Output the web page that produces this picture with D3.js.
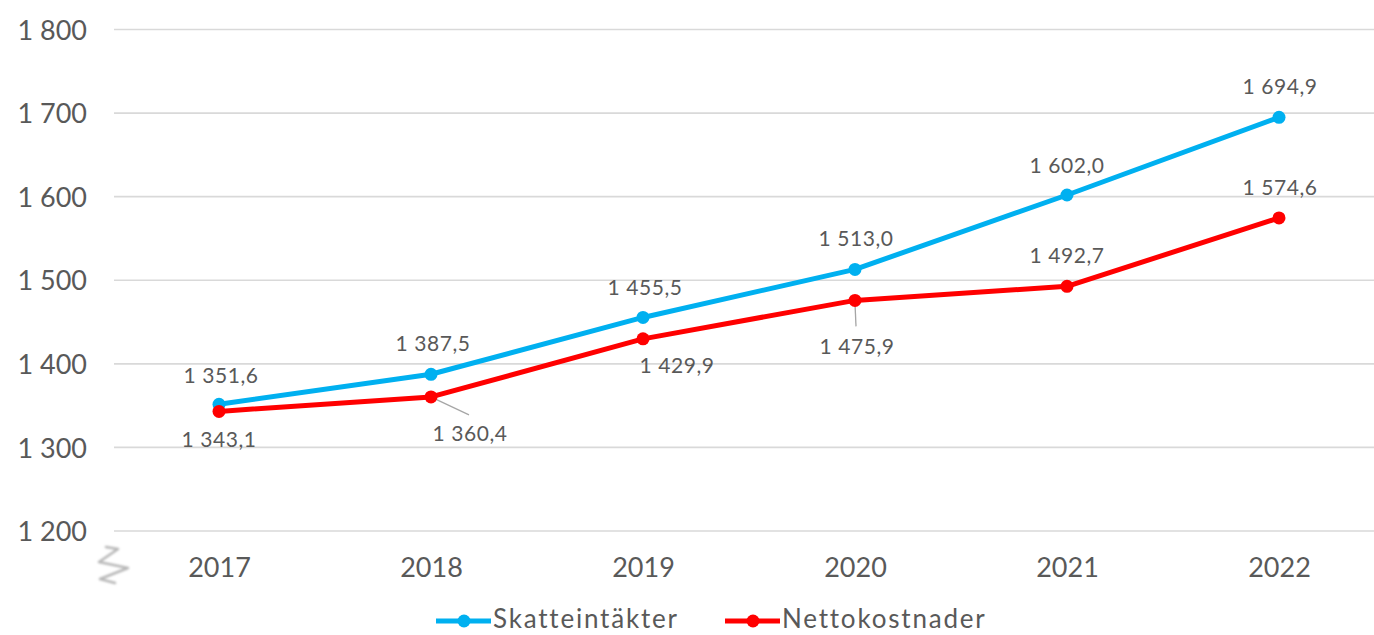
<!DOCTYPE html>
<html>
<head>
<meta charset="utf-8">
<script src="https://cdn.jsdelivr.net/npm/d3@7/dist/d3.min.js"></script>
<style>
  html, body { margin: 0; padding: 0; background: #ffffff; }
  svg { display: block; }
  text { font-family: "Lato", "Open Sans", sans-serif; fill: #595959; }
</style>
</head>
<body>
<svg id="chart" width="1374" height="635"></svg>
<script>
// Skatteintäkter och nettokostnader, 2017–2022
const years = ["2017", "2018", "2019", "2020", "2021", "2022"];
const skatteintakter = [1351.6, 1387.5, 1455.5, 1513.0, 1602.0, 1694.9];
const nettokostnader = [1343.1, 1360.4, 1429.9, 1475.9, 1492.7, 1574.6];
const yTicks = [1200, 1300, 1400, 1500, 1600, 1700, 1800];
const seriesNames = ["Skatteintäkter", "Nettokostnader"];

// label placement relative to each point (dx, dy) and optional leader line
const labelPlacement = {
  Skatteintäkter: [[2, -29], [2, -31], [2, -30], [1, -31], [0, -30], [1, -31]],
  Nettokostnader: [[0, 28], [39, 37], [34, 27], [2, 46], [0, -31], [1, -30]]
};
const leaders = {
  Nettokostnader: { 1: [[4, 2], [38, 18]], 3: [[0, 3], [1, 26]] }
};

const colors = { Skatteintäkter: "#00B0F0", Nettokostnader: "#FF0000" };

const svg = d3.select("#chart");
const W = 1374;

const x = d3.scalePoint().domain(years).range([219, 1279]);
const y = d3.scaleLinear().domain([1200, 1800]).range([531, 29.5]);

// gridlines
svg.append("g")
  .selectAll("line")
  .data(yTicks)
  .join("line")
  .attr("x1", 114).attr("x2", W)
  .attr("y1", d => y(d)).attr("y2", d => y(d))
  .attr("stroke", "#d9d9d9")
  .attr("stroke-width", 1.6);

const fmt = v => {
  const s = v.toFixed(1).replace(".", ",");
  const [int, dec] = s.split(",");
  return int.replace(/\B(?=(\d{3})+(?!\d))/g, " ") + "," + dec;
};
const fmtTick = v => String(v).replace(/\B(?=(\d{3})+(?!\d))/g, " ");

// y axis labels
const yAxis = d3.axisLeft(y).tickValues(yTicks).tickFormat(fmtTick).tickSize(0).tickPadding(0);
const gy = svg.append("g").attr("transform", "translate(87,0)").call(yAxis);
gy.select(".domain").remove();
gy.selectAll("text")
  .attr("font-size", 27)
  .attr("font-family", "Lato, sans-serif")
  .attr("fill", "#595959")
  .attr("dy", "0.36em");

// x axis labels
const xAxis = d3.axisBottom(x).tickSize(0).tickPadding(0);
const gx = svg.append("g").attr("transform", "translate(0,567)").call(xAxis);
gx.select(".domain").remove();
gx.selectAll("text")
  .attr("font-size", 27)
  .attr("font-family", "Lato, sans-serif")
  .attr("fill", "#595959")
  .attr("dy", "0.36em");

// axis break mark
const defs = svg.append("defs");
defs.append("filter").attr("id", "soft")
  .append("feGaussianBlur").attr("stdDeviation", 0.8);
svg.append("path")
  .attr("d", d3.line()([[106, 547], [118, 549], [99, 562], [128, 568], [100, 579], [115, 583]]))
  .attr("fill", "none")
  .attr("stroke", "#b8b8b8")
  .attr("stroke-width", 2.6)
  .attr("stroke-linejoin", "round")
  .attr("stroke-linecap", "round")
  .attr("filter", "url(#soft)");

const seriesData = { Skatteintäkter: skatteintakter, Nettokostnader: nettokostnader };
const line = d3.line().x((d, i) => x(years[i])).y(d => y(d));

// leader lines first, then series
seriesNames.forEach(name => {
  const vals = seriesData[name];
  const L = leaders[name] || {};
  Object.keys(L).forEach(k => {
    const i = +k;
    const px = x(years[i]), py = y(vals[i]);
    svg.append("line")
      .attr("x1", px + L[k][0][0]).attr("y1", py + L[k][0][1])
      .attr("x2", px + L[k][1][0]).attr("y2", py + L[k][1][1])
      .attr("stroke", "#a6a6a6").attr("stroke-width", 1.3);
  });
});

seriesNames.forEach(name => {
  const vals = seriesData[name];
  svg.append("path")
    .datum(vals)
    .attr("d", line)
    .attr("fill", "none")
    .attr("stroke", colors[name])
    .attr("stroke-width", 5)
    .attr("stroke-linejoin", "round");
  svg.append("g")
    .selectAll("circle")
    .data(vals)
    .join("circle")
    .attr("cx", (d, i) => x(years[i]))
    .attr("cy", d => y(d))
    .attr("r", 6.5)
    .attr("fill", colors[name]);
});

// data labels
seriesNames.forEach(name => {
  const vals = seriesData[name];
  svg.append("g")
    .selectAll("text")
    .data(vals)
    .join("text")
    .attr("x", (d, i) => x(years[i]) + labelPlacement[name][i][0])
    .attr("y", (d, i) => y(d) + labelPlacement[name][i][1])
    .attr("dy", "0.36em")
    .attr("text-anchor", "middle")
    .attr("font-size", 21)
    .attr("letter-spacing", 0.6)
    .text(d => fmt(d));
});

// legend
const legendItems = [
  { name: "Skatteintäkter", x0: 436 },
  { name: "Nettokostnader", x0: 725 }
];
const lg = svg.append("g").attr("transform", "translate(0,619)");
legendItems.forEach(it => {
  lg.append("line")
    .attr("x1", it.x0).attr("x2", it.x0 + 55)
    .attr("y1", 2).attr("y2", 2)
    .attr("stroke", colors[it.name]).attr("stroke-width", 5);
  lg.append("circle")
    .attr("cx", it.x0 + 28).attr("cy", 2).attr("r", 6.5)
    .attr("fill", colors[it.name]);
  lg.append("text")
    .attr("x", it.x0 + 57).attr("y", 0)
    .attr("dy", "0.36em")
    .attr("font-size", 26)
    .attr("letter-spacing", 1.8)
    .text(it.name);
});
</script>
</body>
</html>
